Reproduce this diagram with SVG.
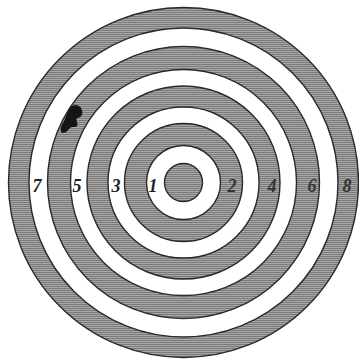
<svg xmlns="http://www.w3.org/2000/svg" width="359" height="359" viewBox="0 0 359 359">
<style>
.d{fill:url(#h);stroke:#2a2a2a;stroke-width:1.4}
.w{fill:#fff;stroke:#2a2a2a;stroke-width:1.4}
.n{font-family:"Liberation Serif",serif;font-weight:bold;font-style:italic;font-size:18px;fill:#222;text-anchor:middle}
.r{fill:#333}
</style>
<defs>
<pattern id="h" width="4" height="2" patternUnits="userSpaceOnUse">
<rect width="4" height="2" fill="#a8a8a8"/>
<rect width="4" height="1" fill="#7a7a7a"/>
</pattern>
</defs>
<rect width="359" height="359" fill="#fff"/>
<g id="target">
<circle class="d" cx="183.5" cy="182.5" r="175"/>
<circle class="w" cx="183.5" cy="182.5" r="154.5"/>
<circle class="d" cx="183.5" cy="182.5" r="136"/>
<circle class="w" cx="183.5" cy="182.5" r="113"/>
<circle class="d" cx="183.5" cy="182.5" r="96.5"/>
<circle class="w" cx="183.5" cy="182.5" r="75.5"/>
<circle class="d" cx="183.5" cy="182.5" r="59"/>
<circle class="w" cx="183.5" cy="182.5" r="37"/>
<circle class="d" cx="183.5" cy="182.5" r="19"/>
</g>
<path id="blot" d="M61,131 C60,128 62,124 64,121 C66,117 67,112 70,108 C72,105 76,104 79,106 C82,108 83,112 82,115 C81,117 79,118 77,118 C75,120 79,123 77,126 C75,128 72,126 70,128 C68,130 66,133 63,133 C62,133 61,132 61,131 Z" fill="#151515"/>
<g id="labels">
<text class="n" x="37" y="192">7</text>
<text class="n" x="77" y="192">5</text>
<text class="n" x="116" y="192">3</text>
<text class="n" x="153" y="192">1</text>
<text class="n r" x="232" y="192">2</text>
<text class="n r" x="272" y="192">4</text>
<text class="n r" x="312" y="192">6</text>
<text class="n r" x="347" y="192">8</text>
</g>
</svg>
